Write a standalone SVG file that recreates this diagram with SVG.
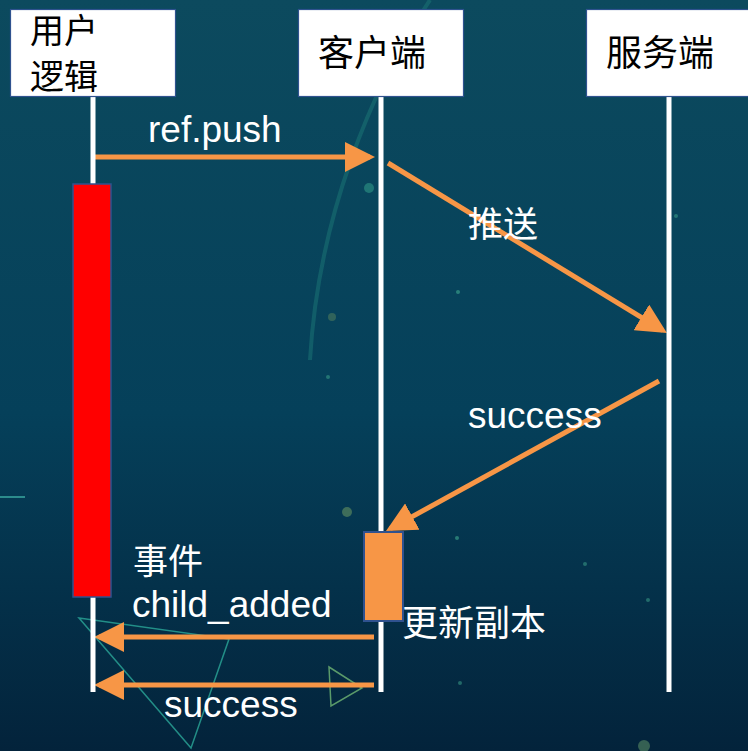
<svg xmlns="http://www.w3.org/2000/svg" width="748" height="751" viewBox="0 0 748 751">
<defs>
<linearGradient id="bg" x1="0" y1="0" x2="0" y2="1">
<stop offset="0" stop-color="#0c4a5e"/>
<stop offset="0.55" stop-color="#05405a"/>
<stop offset="1" stop-color="#03233b"/>
</linearGradient>
<marker id="ah" markerUnits="userSpaceOnUse" markerWidth="30" markerHeight="30" viewBox="0 0 30 30" refX="25" refY="15" orient="auto">
<path d="M0,0 L30,15 L0,30 z" fill="#f79646"/>
</marker>
<style>
.box{fill:#ffffff;stroke:#2f528f;stroke-width:1.2}
.life{stroke:#ffffff;stroke-width:5}
.msg{stroke:#f79646;stroke-width:5;fill:none;marker-end:url(#ah)}
.cjk{font-family:"Noto Sans CJK SC","Noto Sans CJK JP",sans-serif;font-size:34px}
.hd{fill:#000000}
.lbl{fill:#ffffff}
.en{font-family:"Liberation Sans",Arial,sans-serif;font-size:37px;fill:#ffffff}
.deco{fill:none;stroke:#2aa898;stroke-width:1.5}
</style>
</defs>
<g id="background">
<rect x="0" y="0" width="748" height="751" fill="url(#bg)"/>
<path d="M430,0 C370,90 318,220 310,360" fill="none" stroke="#1f7f7a" stroke-width="4" stroke-opacity="0.45"/>
<line x1="0" y1="497" x2="25" y2="497" stroke="#3aa8a0" stroke-width="1.5"/>
<polygon class="deco" points="79,618 229,639 191,748" stroke-opacity="0.8"/>
<polygon points="329,667 362,688 331,706" fill="none" stroke="#5a9a6a" stroke-width="1.5"/>
<circle cx="369" cy="188" r="5" fill="#2a8a80" fill-opacity="0.7"/>
<circle cx="347" cy="512" r="5" fill="#4c7a5c" fill-opacity="0.8"/>
<circle cx="332" cy="317" r="4" fill="#4c7a5c" fill-opacity="0.6"/>
<circle cx="644" cy="746" r="6" fill="#4c7a5c" fill-opacity="0.7"/>
<circle cx="458" cy="292" r="2" fill="#3fa88e" fill-opacity="0.6"/>
<circle cx="457" cy="538" r="2" fill="#3fa88e" fill-opacity="0.6"/>
<circle cx="676" cy="216" r="2" fill="#3fa88e" fill-opacity="0.5"/>
<circle cx="585" cy="564" r="2" fill="#3fa88e" fill-opacity="0.5"/>
<circle cx="648" cy="600" r="2" fill="#3fa88e" fill-opacity="0.5"/>
<circle cx="460" cy="683" r="2" fill="#3fa88e" fill-opacity="0.5"/>
<circle cx="328" cy="377" r="2" fill="#3fa88e" fill-opacity="0.5"/>
</g>
<g id="connectors">
<line class="msg" x1="93" y1="157" x2="370" y2="157"/>
<line class="msg" x1="388" y1="163" x2="662.7" y2="330.4"/>
<line class="msg" x1="659" y1="381" x2="390.4" y2="528.6"/>
<line class="msg" x1="374" y1="637" x2="99" y2="637"/>
<line class="msg" x1="374" y1="685" x2="99" y2="685"/>
</g>
<g id="user-logic">
<line class="life" x1="93" y1="97" x2="93" y2="692"/>
<rect class="box" x="10.5" y="9.5" width="165" height="87"/>
<text class="cjk hd" x="30" y="43">用户</text>
<text class="cjk hd" x="30" y="89">逻辑</text>
<rect x="73" y="184" width="38" height="413" fill="#ff0000" stroke="#2f528f" stroke-width="1.5"/>
</g>
<g id="client">
<line class="life" x1="381" y1="97" x2="381" y2="692"/>
<rect class="box" x="298.5" y="9.5" width="165" height="87"/>
<text class="cjk hd" x="372" y="66" text-anchor="middle" style="font-size:36px">客户端</text>
<rect x="364" y="532" width="39" height="89" fill="#f79646" stroke="#2f528f" stroke-width="2"/>
</g>
<g id="server">
<line class="life" x1="669" y1="97" x2="669" y2="692"/>
<rect class="box" x="586.5" y="9.5" width="170" height="87"/>
<text class="cjk hd" x="660" y="66" text-anchor="middle" style="font-size:36px">服务端</text>
</g>
<g id="labels">
<text class="en" x="148" y="142">ref.push</text>
<text class="cjk lbl" x="468" y="237" style="font-size:35px">推送</text>
<text class="en" x="468" y="428">success</text>
<text class="cjk lbl" x="133" y="574" style="font-size:35px">事件</text>
<text class="en" x="132" y="617">child_added</text>
<text class="cjk lbl" x="402" y="636" style="font-size:36px">更新副本</text>
<text class="en" x="164" y="717">success</text>
</g>
</svg>
